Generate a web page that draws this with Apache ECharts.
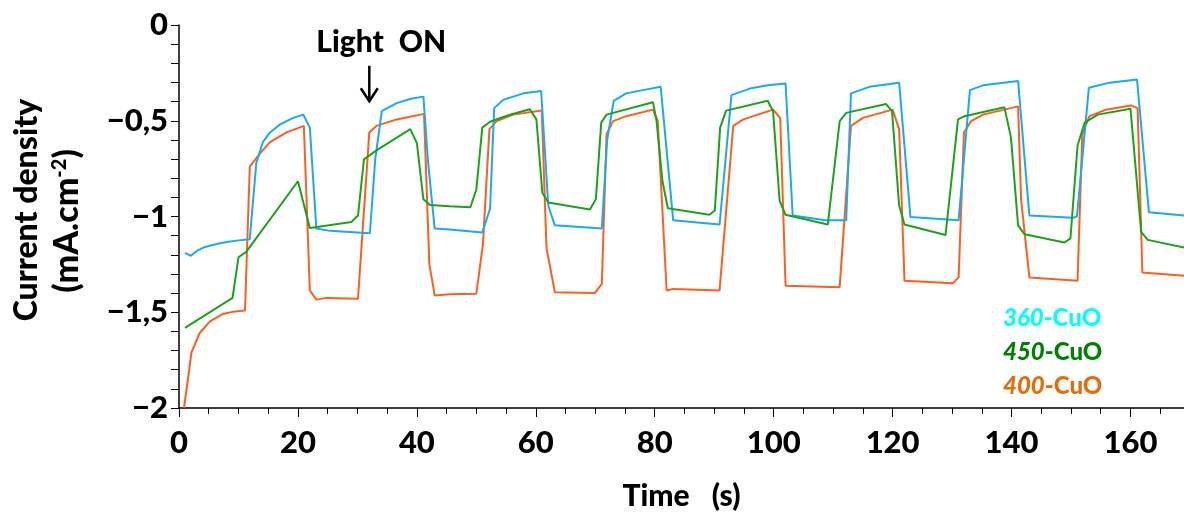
<!DOCTYPE html>
<html>
<head>
<meta charset="utf-8">
<script src="https://cdn.jsdelivr.net/npm/echarts@6/dist/echarts.min.js"></script>
<style>
html,body{margin:0;padding:0;background:#fff;}
#chart{width:1184px;height:516px;}
</style>
</head>
<body>
<div id="chart"></div>
<script>
// ---- data (time in s, current density in mA.cm-2) ----
const cuo360 = [[1.0,-1.19],[2.0,-1.205],[3,-1.18],[4.1,-1.162],[5.5,-1.15],[6.9,-1.14],[8.3,-1.132],[9.7,-1.126],[11.9,-1.119],[13.0,-0.72],[14.1,-0.612],[15.3,-0.561],[17.0,-0.519],[19.2,-0.485],[20.9,-0.468],[22.0,-0.536],[23.1,-1.063],[25.4,-1.075],[28,-1.08],[32.1,-1.088],[33.0,-0.7],[34.1,-0.45],[36.6,-0.408],[39,-0.385],[41.1,-0.374],[41.9,-0.723],[43.0,-1.063],[45.5,-1.068],[51.0,-1.083],[52.3,-0.961],[53.0,-0.434],[54.5,-0.391],[57.9,-0.357],[60.9,-0.345],[62.1,-0.944],[63.2,-1.046],[71.1,-1.063],[72,-0.6],[73.1,-0.396],[75.2,-0.357],[78,-0.34],[81.0,-0.323],[83.1,-1.02],[90.9,-1.042],[92.9,-0.366],[96.0,-0.332],[99,-0.315],[102.0,-0.306],[103.2,-0.995],[108.7,-1.02],[112.2,-1.02],[113.0,-0.357],[116.1,-0.323],[121.1,-0.301],[123.0,-1.003],[131.1,-1.02],[133.0,-0.34],[135.2,-0.315],[141.1,-0.293],[143.0,-0.995],[150.3,-1.007],[151,-1.0],[153.0,-0.328],[156.5,-0.301],[161.1,-0.284],[163.1,-0.978],[169,-0.995]];
const cuo450 = [[1,-1.582],[9,-1.425],[10,-1.213],[11.3,-1.185],[20,-0.816],[22,-1.06],[29,-1.029],[30.1,-0.995],[31.1,-0.702],[33.2,-0.655],[38.9,-0.544],[40,-0.617],[41.1,-0.91],[42.2,-0.94],[45.5,-0.947],[49,-0.952],[50,-0.859],[51,-0.536],[52.3,-0.505],[55.5,-0.47],[59,-0.44],[60.1,-0.493],[61.1,-0.876],[62.1,-0.927],[69.1,-0.964],[70.1,-0.91],[71,-0.51],[71.9,-0.468],[79.7,-0.403],[80.3,-0.5],[81.3,-0.816],[82.2,-0.957],[89.2,-0.991],[90.1,-0.969],[91,-0.536],[92,-0.447],[99,-0.396],[99.9,-0.45],[101,-0.918],[102,-0.991],[109.1,-1.042],[111.1,-0.502],[112.2,-0.459],[118.9,-0.413],[119.9,-0.45],[121.1,-0.944],[122,-1.042],[128.9,-1.097],[131,-0.493],[132.1,-0.476],[138.8,-0.43],[139.9,-0.587],[141.1,-1.046],[142.2,-1.093],[148.9,-1.136],[149.9,-1.114],[151.1,-0.629],[152.3,-0.51],[154.5,-0.468],[160,-0.437],[161.8,-1.08],[162.9,-1.122],[169,-1.162]];
const cuo400 = [[0.84,-2.0],[1.5,-1.85],[2.1,-1.709],[3.5,-1.607],[5.2,-1.548],[7.4,-1.509],[9,-1.498],[11.1,-1.491],[11.9,-0.74],[13.6,-0.672],[15.3,-0.612],[18.1,-0.561],[21.0,-0.527],[22.0,-1.386],[23.1,-1.434],[24.8,-1.425],[30.1,-1.429],[32.0,-0.561],[33.2,-0.527],[36.6,-0.493],[41.2,-0.464],[42.1,-1.25],[43.0,-1.412],[45.5,-1.406],[50.0,-1.403],[51.1,-1.148],[52.2,-0.544],[53.4,-0.502],[56.2,-0.468],[61.0,-0.447],[61.8,-1.165],[63.2,-1.395],[69.9,-1.4],[71.1,-1.352],[71.9,-0.57],[73.0,-0.502],[75.2,-0.476],[79.7,-0.442],[80.5,-0.5],[82.0,-1.386],[83.1,-1.378],[90.9,-1.386],[93.2,-0.527],[94.9,-0.493],[99.9,-0.442],[101.1,-0.485],[102.0,-1.361],[111.1,-1.369],[113.0,-0.527],[115.0,-0.485],[120.0,-0.442],[121.1,-0.544],[122.0,-1.335],[130.1,-1.349],[131.1,-1.318],[132.0,-0.56],[133.2,-0.502],[135.2,-0.468],[141.1,-0.425],[141.6,-0.91],[143.0,-1.318],[151.1,-1.335],[151.9,-0.57],[153.1,-0.476],[155.9,-0.442],[160.1,-0.42],[161.2,-0.434],[162.0,-1.292],[169,-1.31]];
const seriesNames = ['360-CuO','450-CuO','400-CuO'];
const xTicks = [0,20,40,60,80,100,120,140,160];
const yTicks = [0,-0.5,-1,-1.5,-2];
const lightOnTime = 32.0;

const FONT = 'Lato, "Open Sans", sans-serif';
const W = 900;
const chart = echarts.init(document.getElementById('chart'), null, {renderer:'canvas'});

function yFmt(v){
  if (v === 0) return '0';
  return (v < 0 ? '\u2212' : '') + String(Math.abs(v)).replace('.', ',');
}

const legendColors = {'360-CuO':'#00FFFF','450-CuO':'#008000','400-CuO':'#E46C0A'};

const option = {
  animation:false,
  backgroundColor:'#fff',
  grid:{left:179,right:0,top:25,bottom:99,containLabel:false},
  xAxis:{
    type:'value',min:0,max:169,interval:20,
    axisLine:{show:true,onZero:false,lineStyle:{color:'#000',width:1.5}},
    axisTick:{show:true,length:9,lineStyle:{color:'#000',width:1}},
    minorTick:{show:true,splitNumber:4,length:6,lineStyle:{color:'#000',width:1}},
    splitLine:{show:false},
    axisLabel:{color:'#000',fontSize:31,fontWeight:W,fontFamily:FONT,margin:19,
      showMaxLabel:false,
      formatter:function(v){return xTicks.indexOf(v) >= 0 ? String(v) : '';}},
    name:'Time\u2002 (s)',nameLocation:'middle',nameGap:73,
    nameTextStyle:{color:'#000',fontSize:30,fontWeight:W,fontFamily:FONT}
  },
  yAxis:{
    type:'value',min:-2,max:0,interval:0.5,
    axisLine:{show:true,onZero:false,lineStyle:{color:'#000',width:1.5}},
    axisTick:{show:true,length:8,lineStyle:{color:'#000',width:1}},
    minorTick:{show:true,splitNumber:5,length:8,lineStyle:{color:'#000',width:1}},
    splitLine:{show:false},
    axisLabel:{color:'#000',fontSize:31,fontWeight:W,fontFamily:FONT,margin:11,
      formatter:function(v){return yTicks.indexOf(v) >= 0 ? yFmt(v) : '';}}
  },
  legend:{
    orient:'vertical',left:993,top:300,itemGap:8,
    itemWidth:0,itemHeight:0,icon:'rect',
    selectedMode:false,
    data:seriesNames.map(n=>({name:n,textStyle:{color:legendColors[n]}})),
    formatter:function(n){const p=n.split('-');return '{i|'+p[0]+'}-'+p[1];},
    textStyle:{fontSize:24,fontWeight:W,fontFamily:FONT,lineHeight:26,
      rich:{i:{fontStyle:'italic',fontWeight:W,fontSize:24,fontFamily:FONT,lineHeight:26}}}
  },
  series:[
    {name:seriesNames[0],type:'line',data:cuo360,showSymbol:false,symbol:'none',
      lineStyle:{color:'#1AAAF2',width:2},itemStyle:{color:'#1AAAF2'},z:3},
    {name:seriesNames[1],type:'line',data:cuo450,showSymbol:false,symbol:'none',
      lineStyle:{color:'#1CA31C',width:2},itemStyle:{color:'#1CA31C'},z:4},
    {name:seriesNames[2],type:'line',data:cuo400,showSymbol:false,symbol:'none',
      lineStyle:{color:'#FF5E1F',width:2},itemStyle:{color:'#FF5E1F'},z:2}
  ]
};
chart.setOption(option);

// annotation: "Light ON" with arrow placed via the axes
const arrowTop = chart.convertToPixel({gridIndex:0},[lightOnTime,-0.213]);
const arrowTip = chart.convertToPixel({gridIndex:0},[lightOnTime,-0.398]);
const headY = arrowTip[1]-13;
const bold = W + ' ';
chart.setOption({
  graphic:[
    {type:'text',x:arrowTop[0]+12,y:42,style:{text:'Light\u2002ON',font:bold+'30px '+FONT,fill:'#000',
      textAlign:'center',textVerticalAlign:'middle',align:'center',verticalAlign:'middle'}},
    {type:'polyline',shape:{points:[[arrowTop[0],arrowTop[1]],[arrowTip[0],arrowTip[1]]]},style:{stroke:'#000',lineWidth:2.5,fill:null}},
    {type:'polyline',shape:{points:[[arrowTip[0]-8.5,headY],[arrowTip[0],arrowTip[1]],[arrowTip[0]+8.5,headY]]},style:{stroke:'#000',lineWidth:2.5,fill:null}},
    {type:'text',x:27,y:210,rotation:Math.PI/2,style:{text:'Current density',font:bold+'32px '+FONT,fill:'#000',
      textAlign:'center',textVerticalAlign:'middle',align:'center',verticalAlign:'middle'}},
    {type:'text',x:67,y:221,rotation:Math.PI/2,style:{text:'(mA.cm{sup|-2})',font:bold+'34px '+FONT,fill:'#000',
      textAlign:'center',textVerticalAlign:'middle',align:'center',verticalAlign:'middle',
      rich:{sup:{fontSize:20,fontWeight:W,fontFamily:FONT,verticalAlign:'top',fill:'#000'}}}}
  ]
});
</script>
</body>
</html>
